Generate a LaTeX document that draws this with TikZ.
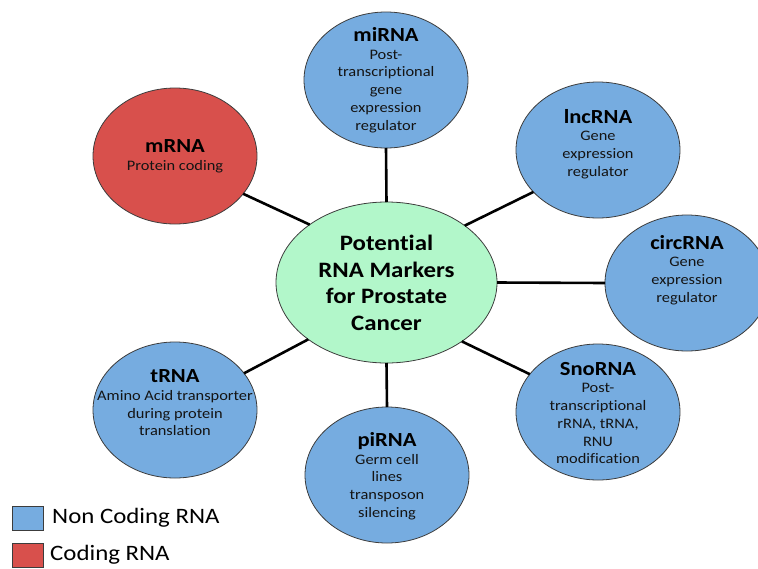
\documentclass[tikz,border=0pt]{standalone}
\usepackage{fontspec}
\setmainfont{Carlito}[FakeStretch=1.13, Ligatures=NoCommon]
\usetikzlibrary{shapes.geometric}

\definecolor{ncblue}{RGB}{118,172,224}
\definecolor{codred}{RGB}{216,80,76}
\definecolor{hubgreen}{RGB}{178,247,202}
\definecolor{rimgray}{RGB}{60,60,60}
\definecolor{inkgray}{RGB}{20,20,20}

\tikzset{
  rnabubble/.style={ellipse, draw=rimgray, line width=0.8pt, inner sep=0pt, outer sep=0pt,
    minimum width=164pt, minimum height=136pt},
  noncoding/.style={rnabubble, fill=ncblue},
  coding/.style={rnabubble, fill=codred},
  hub/.style={ellipse, draw=rimgray, line width=0.8pt, fill=hubgreen, inner sep=0pt, outer sep=0pt,
    minimum width=221pt, minimum height=161pt},
  hubtext/.style={align=center, inner sep=0pt, font=\fontsize{22}{26.7}\selectfont\bfseries},
  desc/.style={align=center, inner sep=0pt, text=inkgray, font=\fontsize{14.5}{17.7}\selectfont},
  link/.style={line width=2.6pt, black},
  keybox/.style={rectangle, draw=rimgray, line width=0.6pt, inner sep=0pt, outer sep=0pt,
    minimum width=31pt, minimum height=24pt},
  keytext/.style={anchor=west, inner sep=0pt, font=\fontsize{22}{26}\selectfont}
}
\newcommand{\rnaname}[1]{{\fontsize{20}{17.7}\selectfont\bfseries\color{black}#1}}

\begin{document}
\begin{tikzpicture}[x=1pt, y=-1pt]
\useasboundingbox (0,0) rectangle (758,568);

% central hub
\node[hub] (hub) at (386.5,282.5) {};
\node[hubtext] (hubt) at (386.5,283) {Potential\\RNA Markers\\for Prostate\\Cancer};

% RNA classes
\node[noncoding] (mi)   at (386,80)  {};
\node[noncoding] (lnc)  at (598,150) {};
\node[noncoding] (circ) at (687,283) {};
\node[noncoding] (sno)  at (598,412) {};
\node[noncoding] (pi)   at (387,475) {};
\node[noncoding] (t)    at (175,410) {};
\node[coding]    (m)    at (175,156) {};

% spokes
\draw[link] (mi.south) -- (hub.north);
\draw[link] (hub.36) -- (lnc.213);
\draw[link] (hub.east) -- (circ.west);
\draw[link] (hub.-38) -- (sno.151);
\draw[link] (hub.south) -- (pi.north);
\draw[link] (hub.216) -- (t.28.5);
\draw[link] (hub.143.7) -- (m.-29.6);

% labels
\node[desc] (mit)   at (386,80)  {\rnaname{miRNA}\\Post-\\transcriptional\\gene\\expression\\regulator};
\node[desc] (lnct)  at (598,144) {\rnaname{lncRNA}\\Gene\\expression\\regulator};
\node[desc] (circt) at (687,270) {\rnaname{circRNA}\\Gene\\expression\\regulator};
\node[desc] (snot)  at (598,413) {\rnaname{SnoRNA}\\Post-\\transcriptional\\rRNA, tRNA,\\RNU\\modification};
\node[desc] (pit)   at (387,476) {\rnaname{piRNA}\\Germ cell\\lines\\transposon\\silencing};
\node[desc] (tt)    at (175,403) {\rnaname{tRNA}\\Amino Acid transporter\\during protein\\translation};
\node[desc] (mt)    at (175,156) {\rnaname{mRNA}\\Protein coding};

% key
\node[keybox, fill=ncblue] (k1) at (27.5,518) {};
\node[keybox, fill=codred] (k2) at (27.5,555) {};
\node[keytext] (k1t) at (52,518) {Non Coding RNA};
\node[keytext] (k2t) at (50,555) {Coding RNA};
\end{tikzpicture}
\end{document}
